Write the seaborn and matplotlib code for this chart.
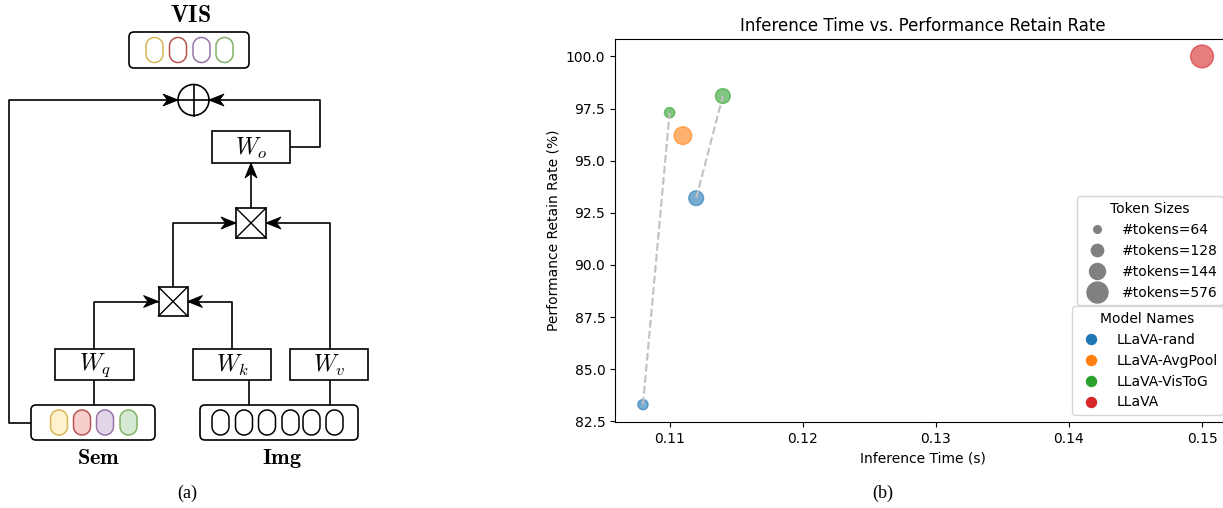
import matplotlib
matplotlib.use('Agg')
import matplotlib.pyplot as plt
from matplotlib.patches import FancyBboxPatch, Rectangle, Circle, Polygon
from matplotlib.lines import Line2D
import numpy as np
import pandas as pd
import seaborn as sns

plt.rcParams['mathtext.fontset'] = 'cm'

# data for panel (b)
models = ['LLaVA-rand', 'LLaVA-rand', 'LLaVA-AvgPool', 'LLaVA-VisToG', 'LLaVA-VisToG', 'LLaVA']
tokens = [64, 128, 144, 64, 128, 576]
inference_time = [0.108, 0.112, 0.111, 0.110, 0.114, 0.150]
retain_rate = [83.3, 93.2, 96.2, 97.3, 98.1, 100.0]

model_order = ['LLaVA-rand', 'LLaVA-AvgPool', 'LLaVA-VisToG', 'LLaVA']
token_order = [64, 128, 144, 576]

df = pd.DataFrame({'model': models, 'tokens': tokens,
                   'time': inference_time, 'retain': retain_rate})

palette = dict(zip(model_order, sns.color_palette('tab10', 4)))
marker_area = {64: 55, 128: 114, 144: 162, 576: 270}
legend_ms = {64: 5.5, 128: 8.9, 144: 11.5, 576: 15.1}

fig = plt.figure(figsize=(12.23, 5.08), dpi=100)

### panel (a): the block diagram, drawn in pixel coords
d = fig.add_axes([0, 0, 1, 1])
d.set_xlim(0, 1223)
d.set_ylim(508, 0)
d.axis('off')

LW = 1.2


def box(x0, y0, x1, y1, label=None, rounding=0):
    if rounding:
        p = FancyBboxPatch((x0, y0), x1 - x0, y1 - y0,
                           boxstyle=f'round,pad=0,rounding_size={rounding}',
                           fc='white', ec='black', lw=LW, zorder=2)
    else:
        p = Rectangle((x0, y0), x1 - x0, y1 - y0, fc='white', ec='black', lw=LW, zorder=2)
    d.add_patch(p)
    if label:
        d.text((x0 + x1) / 2, (y0 + y1) / 2 + 1, label, ha='center', va='center', fontsize=17, zorder=3)


def pill(cx, cy, ec, fc='white', w=17, h=25):
    r = w / 2
    t = np.linspace(0, np.pi, 40)
    ty, by = cy - (h / 2 - r), cy + (h / 2 - r)
    top = np.column_stack([cx + r * np.cos(t), ty - r * np.sin(t)])
    bot = np.column_stack([cx - r * np.cos(t), by + r * np.sin(t)])
    d.add_patch(Polygon(np.vstack([top, bot]), closed=True, fc=fc, ec=ec, lw=1.1, zorder=3))


def head(tip, frm, L=15, W=12, notch=0.3):
    tip = np.array(tip, float)
    u = tip - np.array(frm, float)
    u /= np.hypot(*u)
    p = np.array([-u[1], u[0]])
    pts = [tip, tip - L * u + W / 2 * p, tip - L * (1 - notch) * u, tip - L * u - W / 2 * p]
    d.add_patch(Polygon(pts, closed=True, fc='black', ec='black', lw=0.6, zorder=4))


def wire(pts, arrow=True):
    xs, ys = zip(*pts)
    d.plot(xs, ys, color='black', lw=LW, zorder=1, solid_capstyle='butt')
    if arrow:
        head(pts[-1], pts[-2])


def crossbox(cx, cy, h=15):
    d.add_patch(Rectangle((cx - h, cy - h), 2 * h, 2 * h, fc='white', ec='black', lw=LW, zorder=2))
    d.plot([cx - h, cx + h], [cy - h, cy + h], color='black', lw=1, zorder=3)
    d.plot([cx - h, cx + h], [cy + h, cy - h], color='black', lw=1, zorder=3)


edge_cols = ['#d6b656', '#b85450', '#9673a6', '#82b366']
fill_cols = ['#fff2cc', '#f8cecc', '#e1d5e7', '#d5e8d4']

# VIS output
d.text(191, 15, r'$\mathbf{VIS}$', ha='center', va='center', fontsize=17)
box(129, 32, 249, 68, rounding=5)
for cx, ec in zip([154.5, 178, 201.5, 224.5], edge_cols):
    pill(cx, 50, ec)

# add node
d.add_patch(Circle((193.5, 100), 15.5, fc='white', ec='black', lw=LW, zorder=2))
d.plot([193.5, 193.5], [84.5, 115.5], color='black', lw=LW, zorder=3)
d.plot([178, 209], [100, 100], color='black', lw=LW, zorder=3)

# residual + output projection
wire([(31, 423), (9, 423), (9, 100), (178, 100)])
wire([(290, 147), (320, 147), (320, 100), (209, 100)])
box(212, 131, 290, 163, r'$W_o$')
wire([(251, 208), (251, 163)])

crossbox(251, 223)
wire([(173, 287), (173, 223), (236, 223)])
wire([(330, 349), (330, 223), (266, 223)])

crossbox(173, 301.5, h=14.5)
wire([(94, 349), (94, 301.5), (158.5, 301.5)])
wire([(232, 349), (232, 301.5), (187.5, 301.5)])

box(55, 349, 134, 380, r'$W_q$')
box(193, 349, 271, 380, r'$W_k$')
box(290, 349, 368, 380, r'$W_v$')
wire([(94, 380), (94, 405)], arrow=False)
wire([(249, 380), (249, 405)], arrow=False)
wire([(330, 380), (330, 405)], arrow=False)

box(31, 405, 155, 440, rounding=5)
for cx, ec, fc in zip([59, 82, 105, 128.5], edge_cols, fill_cols):
    pill(cx, 422.5, ec, fc)
box(200, 405, 358, 440, rounding=5)
for cx in [220.5, 244, 267, 290.5, 311.5, 334.5]:
    pill(cx, 422.5, 'black')

d.text(99, 458, r'$\mathbf{Sem}$', ha='center', va='center', fontsize=16)
d.text(282, 459, r'$\mathbf{Img}$', ha='center', va='center', fontsize=16)
d.text(187, 493, '(a)', ha='center', va='center', fontsize=13, family='Liberation Serif')
d.text(883, 493, '(b)', ha='center', va='center', fontsize=13, family='Liberation Serif')

### panel (b): scatter (right edge of the axes runs past the figure, as in the source)
ax = fig.add_axes([615 / 1223, 86 / 508, 615 / 1223, 383 / 508])
sns.scatterplot(data=df, x='time', y='retain', hue='model', hue_order=model_order,
                size='tokens', sizes=marker_area, palette=palette, alpha=0.6,
                edgecolor='face', linewidth=1, legend=False, ax=ax, zorder=2)

for tok in [64, 128]:
    pair = df[(df['tokens'] == tok) & df['model'].isin(['LLaVA-rand', 'LLaVA-VisToG'])]
    ax.plot(pair['time'], pair['retain'], ls='--', color='#c0c0c0', lw=1.5, zorder=3)

ax.set_title('Inference Time vs. Performance Retain Rate', fontsize=12)
ax.set_xlabel('Inference Time (s)', fontsize=10)
ax.set_ylabel('Performance Retain Rate (%)', fontsize=10)
ax.tick_params(labelsize=10)

size_handles = [Line2D([], [], marker='o', ls='', color='gray', markersize=legend_ms[t],
                       label=f'#tokens={t}') for t in token_order]
leg1 = ax.legend(handles=size_handles, title='Token Sizes', loc='upper right',
                 bbox_to_anchor=(0.9886, 0.589), borderaxespad=0, fontsize=10)
ax.add_artist(leg1)
model_handles = [Line2D([], [], marker='o', ls='', color=palette[m], markersize=7.2, label=m)
                 for m in model_order]
ax.legend(handles=model_handles, title='Model Names', loc='lower right', fontsize=10)

fig.savefig('out.png', dpi=100)
